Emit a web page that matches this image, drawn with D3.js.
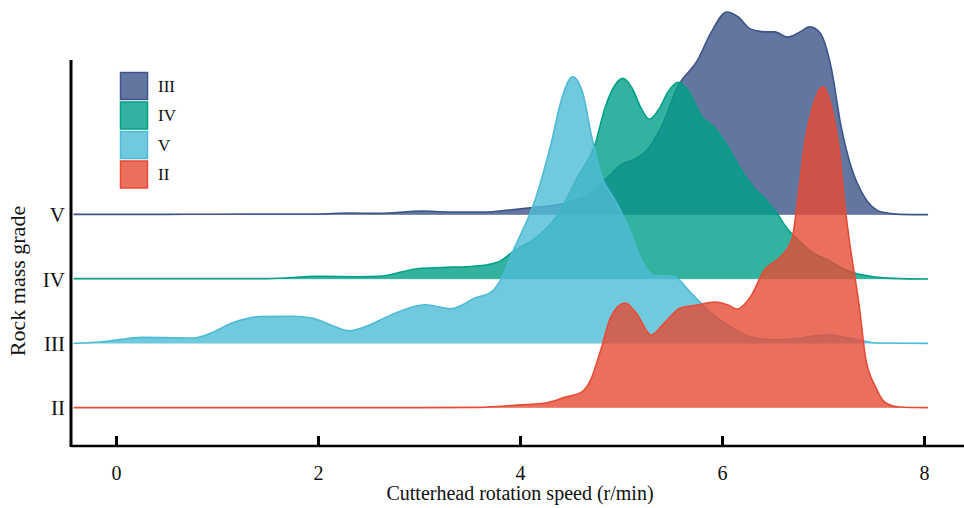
<!DOCTYPE html>
<meta charset="utf-8">
<style>
  body { margin: 0; background: #fff; }
  text { font-family: "Liberation Serif", "Times New Roman", serif; fill: #111; }
</style>
<svg width="964" height="508"></svg>

<script src="https://d3js.org/d3.v7.min.js"></script>
<script>
// rows from top to bottom, as labelled on the y axis
var rows = ["V", "IV", "III", "II"]
var rowColors = ["#3C5488", "#00A087", "#4DBBD5", "#E64B35"]

// legend as printed in the figure
var legendLabels = ["III", "IV", "V", "II"]
var legendColors = ["#3C5488", "#00A087", "#4DBBD5", "#E64B35"]

var xTicks = [0, 2, 4, 6, 8]

// density estimates (speed in r/min, density)
var speedV = [-0.42, 0.5, 1.5, 2.0, 2.3, 2.6, 3.03, 3.3, 3.66, 3.89, 4.15, 4.45, 4.70, 4.87, 5.0, 5.14, 5.24, 5.40, 5.56, 5.76, 5.89, 6.05, 6.16, 6.28, 6.42, 6.52, 6.65, 6.76, 6.87, 6.97, 7.08, 7.18, 7.28, 7.41, 7.58, 7.76, 8.04]
var densV = [0.002, 0.002, 0.003, 0.003, 0.006, 0.005, 0.012, 0.009, 0.009, 0.015, 0.023, 0.036, 0.067, 0.115, 0.152, 0.170, 0.191, 0.267, 0.388, 0.470, 0.552, 0.615, 0.600, 0.564, 0.555, 0.555, 0.539, 0.552, 0.570, 0.552, 0.448, 0.267, 0.145, 0.055, 0.009, 0.002, 0.001]

var speedIV = [-0.42, 1.5, 2.0, 2.4, 2.6, 3.0, 3.23, 3.5, 3.69, 3.82, 3.92, 4.15, 4.35, 4.58, 4.74, 4.84, 4.94, 5.02, 5.11, 5.20, 5.28, 5.38, 5.47, 5.57, 5.67, 5.79, 5.93, 6.05, 6.18, 6.32, 6.45, 6.55, 6.65, 6.75, 6.88, 7.07, 7.24, 7.47, 7.7, 8.04]
var densIV = [0.002, 0.002, 0.009, 0.008, 0.009, 0.033, 0.036, 0.039, 0.045, 0.058, 0.082, 0.124, 0.185, 0.315, 0.406, 0.518, 0.588, 0.609, 0.579, 0.518, 0.485, 0.518, 0.570, 0.597, 0.570, 0.497, 0.458, 0.406, 0.336, 0.276, 0.236, 0.197, 0.152, 0.121, 0.085, 0.055, 0.027, 0.009, 0.003, 0.001]

var speedIII = [-0.42, -0.16, 0.27, 0.55, 0.76, 0.9, 1.16, 1.42, 1.75, 1.94, 2.14, 2.31, 2.47, 2.73, 3.06, 3.32, 3.56, 3.72, 3.82, 3.92, 4.15, 4.31, 4.41, 4.52, 4.62, 4.71, 4.81, 4.94, 5.07, 5.20, 5.33, 5.46, 5.53, 5.69, 5.89, 6.08, 6.32, 6.55, 6.8, 7.04, 7.34, 7.53, 8.04]
var densIII = [0.001, 0.005, 0.019, 0.018, 0.017, 0.027, 0.064, 0.082, 0.083, 0.078, 0.055, 0.039, 0.052, 0.088, 0.118, 0.106, 0.139, 0.158, 0.200, 0.273, 0.436, 0.609, 0.739, 0.809, 0.761, 0.627, 0.506, 0.436, 0.355, 0.255, 0.206, 0.206, 0.203, 0.155, 0.094, 0.052, 0.018, 0.012, 0.018, 0.027, 0.012, 0.002, 0.001]

var speedII = [-0.42, 3.0, 3.59, 3.98, 4.25, 4.45, 4.61, 4.70, 4.80, 4.90, 5.04, 5.15, 5.30, 5.43, 5.59, 5.76, 5.93, 6.06, 6.15, 6.28, 6.42, 6.58, 6.69, 6.75, 6.81, 6.89, 7.0, 7.09, 7.16, 7.21, 7.26, 7.36, 7.42, 7.52, 7.62, 7.75, 8.04]
var densII = [0.001, 0.001, 0.002, 0.009, 0.015, 0.033, 0.048, 0.085, 0.176, 0.276, 0.318, 0.288, 0.221, 0.258, 0.303, 0.312, 0.321, 0.312, 0.300, 0.336, 0.418, 0.458, 0.509, 0.630, 0.782, 0.903, 0.973, 0.903, 0.782, 0.630, 0.509, 0.306, 0.155, 0.064, 0.015, 0.003, 0.001]

var speeds = [speedV, speedIV, speedIII, speedII]
var dens = [densV, densIV, densIII, densII]

var svg = d3.select('svg')

var x = d3.scaleLinear().domain([0, 8]).range([116, 924])
var y = d3.scalePoint().domain(rows).range([215, 408])
var h = d3.scaleLinear().domain([0, 1]).range([0, 330])

var axisY = 446
var axisLeft = 71

var ridges = rows.map(function (r, i) {
  return { row: r, color: rowColors[i], pts: speeds[i].map(function (s, j) { return [s, dens[i][j]] }) }
})

var g = svg.append('g')
ridges.forEach(function (d) {
  var base = y(d.row)
  var area = d3.area()
    .x(function (p) { return x(p[0]) })
    .y0(base)
    .y1(function (p) { return base - h(p[1]) })
    .curve(d3.curveMonotoneX)
  var line = d3.line()
    .x(function (p) { return x(p[0]) })
    .y(function (p) { return base - h(p[1]) })
    .curve(d3.curveMonotoneX)
  g.append('path').datum(d.pts)
    .attr('d', area)
    .attr('fill', d.color)
    .attr('fill-opacity', 0.8)
  g.append('line')
    .attr('x1', x(d.pts[0][0])).attr('x2', x(d.pts[d.pts.length - 1][0]))
    .attr('y1', base).attr('y2', base)
    .attr('stroke', '#fff').attr('stroke-opacity', 0.35).attr('stroke-width', 1)
  g.append('path').datum(d.pts)
    .attr('d', line)
    .attr('fill', 'none')
    .attr('stroke', d.color)
    .attr('stroke-width', 1.6)
})

// x axis
var xAxis = d3.axisBottom(x).tickValues(xTicks).tickSizeInner(-10).tickSizeOuter(0).tickPadding(20)
var xg = svg.append('g').attr('transform', 'translate(0,' + axisY + ')').call(xAxis)
xg.select('.domain').remove()
xg.selectAll('.tick line').attr('stroke', '#000').attr('stroke-width', 3)
xg.selectAll('.tick text').attr('font-size', 20).attr('font-family', 'Liberation Serif').attr('fill', '#111')
svg.append('line')
  .attr('x1', axisLeft).attr('x2', 964).attr('y1', axisY).attr('y2', axisY)
  .attr('stroke', '#000').attr('stroke-width', 2.5)

// y axis
svg.append('line')
  .attr('x1', axisLeft).attr('x2', axisLeft).attr('y1', 60).attr('y2', axisY + 1)
  .attr('stroke', '#000').attr('stroke-width', 3)
svg.append('g').selectAll('text').data(rows).enter().append('text')
  .attr('x', 65).attr('y', function (d) { return y(d) })
  .attr('dy', '0.35em')
  .attr('text-anchor', 'end')
  .attr('font-size', 21)
  .text(function (d) { return d })

svg.append('text')
  .attr('transform', 'translate(25,281) rotate(-90)')
  .attr('text-anchor', 'middle')
  .attr('font-size', 22)
  .text('Rock mass grade')

svg.append('text')
  .attr('x', 520).attr('y', 500)
  .attr('text-anchor', 'middle')
  .attr('font-size', 20)
  .text('Cutterhead rotation speed (r/min)')

// legend
var leg = svg.append('g').attr('transform', 'translate(120,72)')
legendLabels.forEach(function (l, i) {
  var row = leg.append('g').attr('transform', 'translate(0,' + (i * 29.5) + ')')
  row.append('rect')
    .attr('x', 0.5).attr('y', 0.5).attr('width', 27).attr('height', 27)
    .attr('fill', legendColors[i]).attr('fill-opacity', 0.8)
    .attr('stroke', legendColors[i]).attr('stroke-width', 1.5)
  row.append('text')
    .attr('x', 38).attr('y', 14).attr('dy', '0.35em')
    .attr('font-size', 17)
    .text(l)
})
</script>
